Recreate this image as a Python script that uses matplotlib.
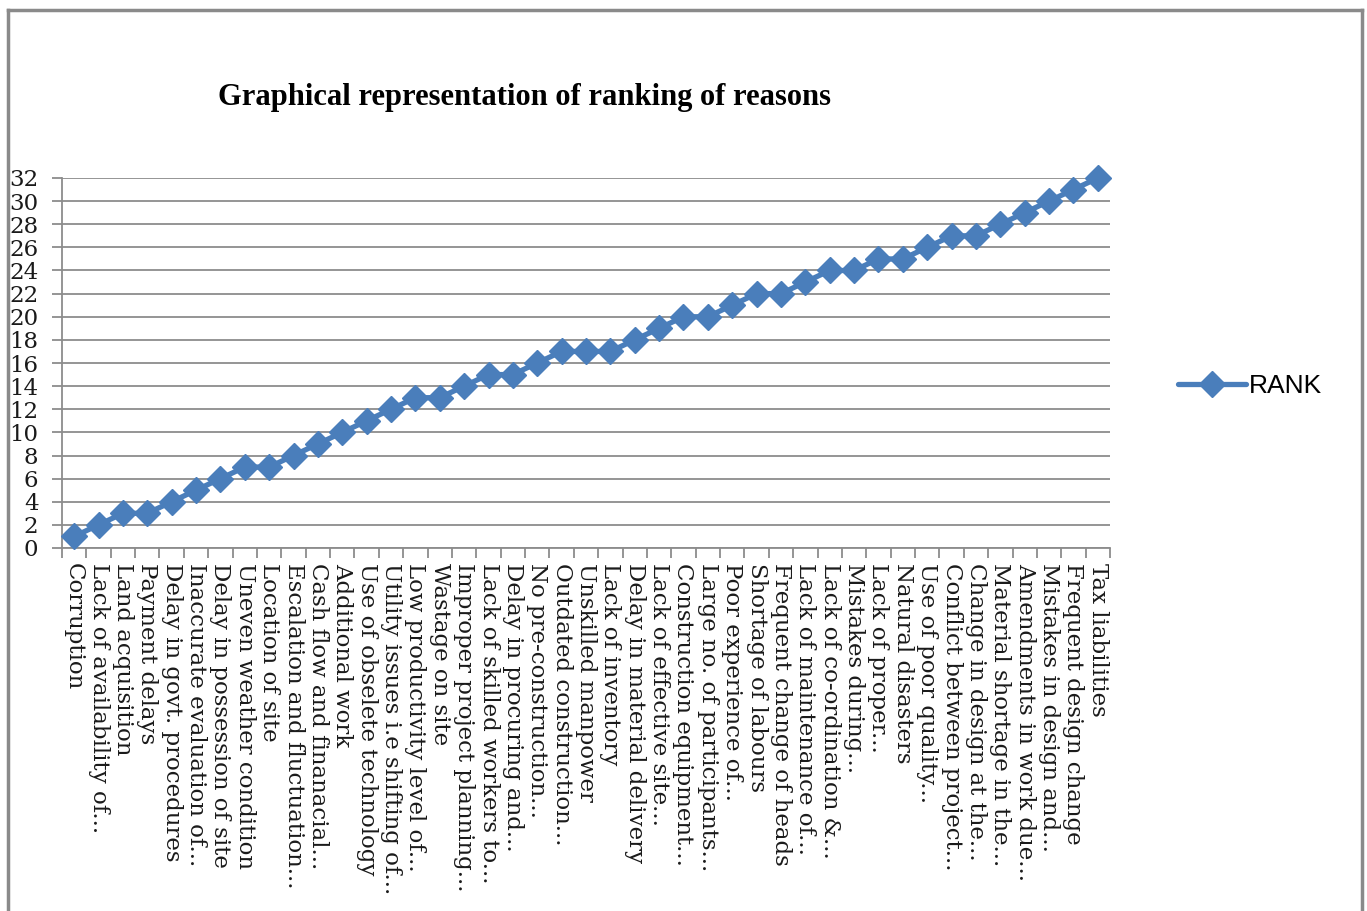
import matplotlib.pyplot as plt
from matplotlib.lines import Line2D
from matplotlib.ticker import FixedLocator, MultipleLocator

# Reasons in rank order and the rank each one got
reasons = [
    "Corruption", "Lack of availability of...", "Land acquisition", "Payment delays",
    "Delay in govt. procedures", "Inaccurate evaluation of...", "Delay in possession of site",
    "Uneven weather condition", "Location of site", "Escalation and fluctuation...",
    "Cash flow and finanacial...", "Additional work", "Use of obselete technology",
    "Utility issues i.e shifting of...", "Low productivity level of...", "Wastage on site",
    "Improper project planning...", "Lack of skilled workers to...", "Delay in procuring and...",
    "No pre-construction...", "Outdated construction...", "Unskilled manpower",
    "Lack of inventory", "Delay in material delivery", "Lack of effective site...",
    "Construction equipment...", "Large no. of participants...", "Poor experience of...",
    "Shortage of labours", "Frequent change of heads", "Lack of maintenance of...",
    "Lack of co-ordination &...", "Mistakes during...", "Lack of proper...",
    "Natural disasters", "Use of poor quality...", "Conflict between project...",
    "Change in design at the...", "Material shortage in the...", "Amendments in work due...",
    "Mistakes in design and...", "Frequent design change", "Tax liabilities",
]
rank = [1, 2, 3, 3, 4, 5, 6, 7, 7, 8, 9, 10, 11, 12, 13, 13, 14, 15, 15, 16, 17, 17,
        17, 18, 19, 20, 20, 21, 22, 22, 23, 24, 24, 25, 25, 26, 27, 27, 28, 29, 30, 31, 32]

blue = "#4a7ebb"
grid_gray = "#8c8c8c"

fig = plt.figure(figsize=(13.67, 9.11), dpi=100)
ax = fig.add_axes([62 / 1367, 1 - 548 / 911, (1110 - 62) / 1367, (548 - 178) / 911])

x = list(range(len(reasons)))
ax.plot(x, rank, color=blue, lw=3.8, marker="D", ms=13, mec=blue, mew=1,
        label="RANK", solid_capstyle="round", clip_on=False, zorder=3)

ax.set_xlim(-0.5, len(reasons) - 0.5)
ax.set_ylim(0, 32)
ax.yaxis.set_major_locator(MultipleLocator(2))
ax.grid(axis="y", color=grid_gray, lw=1.3)
ax.set_axisbelow(True)

# category labels under the points, ticks between categories
ax.set_xticks(x)
ax.set_xticklabels(reasons, rotation=270, ha="center", va="top",
                   family="DejaVu Serif", fontsize=16.5, color="#1a1a1a")
ax.tick_params(axis="x", which="major", length=0, pad=11)
ax.xaxis.set_minor_locator(FixedLocator([i - 0.5 for i in range(len(reasons) + 1)]))
ax.tick_params(axis="x", which="minor", length=7, color=grid_gray, width=1.3)

ax.tick_params(axis="y", length=7, color=grid_gray, width=1.3, pad=10)
for lbl in ax.get_yticklabels():
    lbl.set_family("DejaVu Serif")
    lbl.set_fontsize(16.5)
    lbl.set_color("#1a1a1a")

for side in ["top", "right"]:
    ax.spines[side].set_visible(False)
for side in ["left", "bottom"]:
    ax.spines[side].set_color(grid_gray)
    ax.spines[side].set_linewidth(1.3)

fig.text(524 / 1367, 1 - 97 / 911, "Graphical representation of ranking of reasons",
         ha="center", va="center", family="Liberation Serif", fontweight="bold",
         fontsize=22, color="black")

ax.legend(loc="center left", bbox_to_anchor=(1154 / 1367, 1 - 386 / 911),
          bbox_transform=fig.transFigure, frameon=False, handlelength=2.6,
          handletextpad=0.1, prop={"family": "Liberation Sans", "size": 19})

# outer chart frame
frame = dict(color="#8a8a8a", lw=2.5, transform=fig.transFigure)
fig.add_artist(Line2D([8 / 1367, 1362 / 1367], [1 - 10 / 911] * 2, **frame))
fig.add_artist(Line2D([8 / 1367] * 2, [0, 1 - 10 / 911], **frame))
fig.add_artist(Line2D([1362 / 1367] * 2, [0, 1 - 10 / 911], **frame))

fig.savefig("out.png", dpi=100, facecolor="white")
